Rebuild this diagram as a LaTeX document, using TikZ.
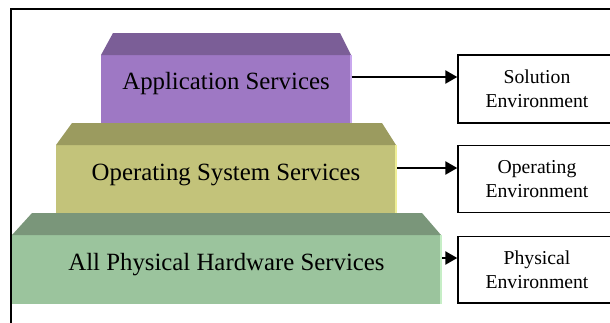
\documentclass[tikz,border=0pt]{standalone}
\usepackage{fontspec}
\setmainfont{Liberation Serif}
\usetikzlibrary{arrows.meta,calc}
\definecolor{pfront}{HTML}{9E78C4}
\definecolor{ptop}{HTML}{7B5E97}
\definecolor{pstrip}{HTML}{C9A8EE}
\definecolor{ofront}{HTML}{C3C37A}
\definecolor{otop}{HTML}{9B9B5F}
\definecolor{ostrip}{HTML}{EEEE96}
\definecolor{gfront}{HTML}{9BC49D}
\definecolor{gtop}{HTML}{7A967A}
\definecolor{gstrip}{HTML}{C6EEC6}
\begin{document}
\begin{tikzpicture}[x=1pt,y=-1pt,
  front/.style={draw=none,inner sep=0pt,outer sep=0pt,rectangle},
  lab/.style={inner sep=0pt,anchor=base,font=\fontsize{24.8}{30}\selectfont},
  envbox/.style={draw,line width=1.4pt,inner sep=0pt,minimum width=158pt,align=center,
    font=\fontsize{19.7}{24}\selectfont},
  arr/.style={line width=2.4pt,-{Triangle[length=12pt,width=13pt]}}]
\useasboundingbox (0,0) rectangle (610,322);
% frame
\draw[line width=1.3pt] (11,335) -- (11,9) -- (625,9);
% tiers
\node[front,fill=pfront,minimum width=250pt,minimum height=68pt] (app) at (226,89) {};
\node[front,fill=ofront,minimum width=340pt,minimum height=68pt] (os) at (226,179) {};
\node[front,fill=gfront,minimum width=429pt,minimum height=69pt] (hw) at (226.5,269.5) {};
\fill[ptop] (app.north west) -- (113,33) -- (340,33) -- (app.north east) -- cycle;
\fill[otop] (os.north west) -- (72,123) -- (382,123) -- (os.north east) -- cycle;
\fill[gtop] (hw.north west) -- (32,213) -- (422,213) -- (hw.north east) -- cycle;
\fill[pstrip] ($(app.north east)+(-1.5,0)$) rectangle ($(app.south east)+(0.8,0)$);
\fill[ostrip] ($(os.north east)+(-1.5,0)$) rectangle ($(os.south east)+(0.8,0)$);
\fill[gstrip] ($(hw.north east)+(-1.5,0)$) rectangle ($(hw.south east)+(0.8,0)$);
\node[lab] (appt) at (226,89) {Application Services};
\node[lab] (ost) at (226,180) {Operating System Services};
\node[lab] (hwt) at (226.5,270) {All Physical Hardware Services};
% environment boxes
\node[envbox,minimum height=68pt] (sol) at (537,89) {Solution\\Environment};
\node[envbox,minimum height=67pt] (ope) at (537,179.2) {Operating\\Environment};
\node[envbox,minimum height=66.3pt] (phy) at (537,269.8) {Physical\\Environment};
% arrows
\coordinate (a1) at (351.5,77);
\coordinate (a2) at (397,168);
\coordinate (a3) at (442,258);
\draw[arr] (a1) -- (a1 -| sol.west);
\draw[arr] (a2) -- (a2 -| ope.west);
\draw[arr] (a3) -- (a3 -| phy.west);
\end{tikzpicture}
\end{document}
